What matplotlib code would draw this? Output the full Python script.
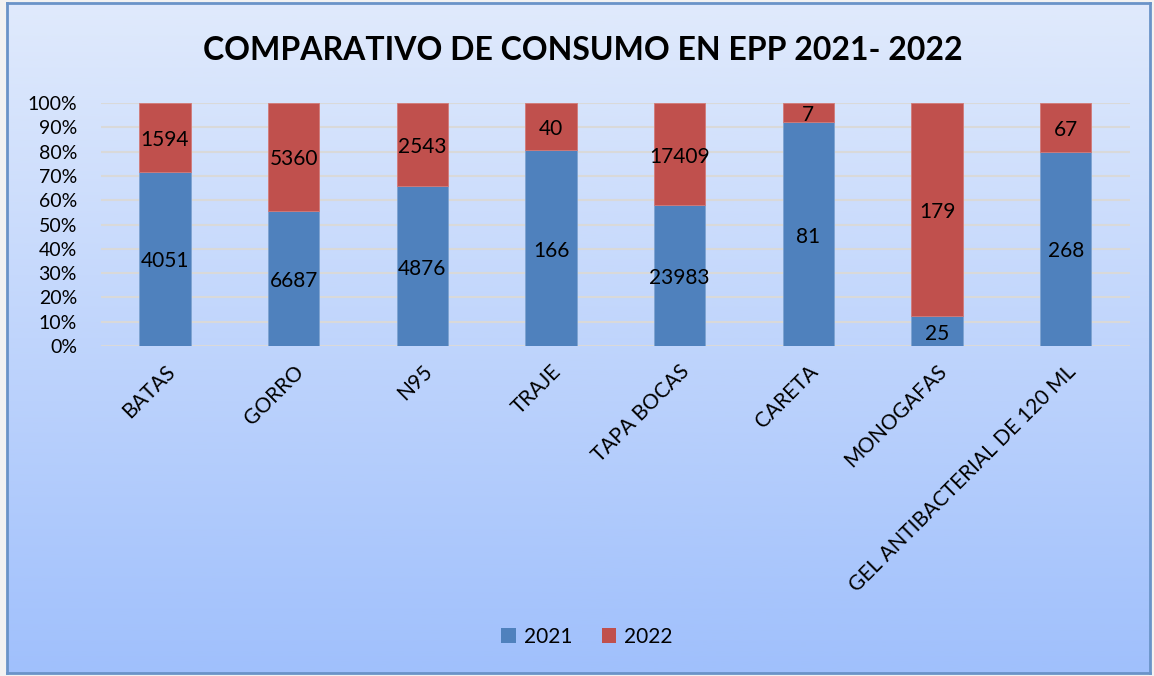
import numpy as np
import matplotlib
matplotlib.use("Agg")
import matplotlib.pyplot as plt
from matplotlib.patches import Patch
from matplotlib.ticker import PercentFormatter

categories = ["BATAS", "GORRO", "N95", "TRAJE", "TAPA BOCAS", "CARETA", "MONOGAFAS",
              "GEL ANTIBACTERIAL DE 120 ML"]
v2021 = [4051, 6687, 4876, 166, 23983, 81, 25, 268]
v2022 = [1594, 5360, 2543, 40, 17409, 7, 179, 67]
series_names = ["2021", "2022"]
title = "COMPARATIVO DE CONSUMO EN EPP 2021- 2022"

plt.rcParams['font.family'] = ['Lato', 'DejaVu Sans']

W, H = 1154, 676
fig = plt.figure(figsize=(W / 100, H / 100), dpi=100)
fig.patch.set_facecolor("#f2f2f2")

# gradient background panel
bg = fig.add_axes([7 / W, 3 / H, (1150 - 7) / W, (673 - 3) / H], zorder=0)
top = np.array([224, 234, 252]) / 255
bot = np.array([160, 192, 252]) / 255
t = np.linspace(0, 1, 256)[:, None]
grad = (top[None, :] * (1 - t) + bot[None, :] * t)[:, None, :]
bg.imshow(grad, aspect="auto", extent=[0, 1, 0, 1], origin="upper")
bg.set_xlim(0, 1); bg.set_ylim(0, 1)
bg.set_xticks([]); bg.set_yticks([])
for s in bg.spines.values():
    s.set_color("#6a93c8")
    s.set_linewidth(2)

ax = fig.add_axes([100.6 / W, (676 - 346) / H, (1130 - 100.6) / W, (346 - 103) / H], zorder=1)
ax.set_facecolor("none")

a = np.array(v2021, float)
b = np.array(v2022, float)
tot = a + b
pa = a / tot
pb = b / tot
x = np.arange(len(categories))
c1, c2 = "#4F81BD", "#C0504D"
ax.bar(x, pa, width=0.4, color=c1, edgecolor="#7ea3d1", linewidth=0.6, zorder=2)
ax.bar(x, pb, width=0.4, bottom=pa, color=c2, edgecolor="#d27a78", linewidth=0.6, zorder=2)

for i in range(len(categories)):
    ax.text(x[i], pa[i] / 2 - 0.01, f"{v2021[i]}", ha="center", va="center", fontsize=15, zorder=3)
    ax.text(x[i], pa[i] + pb[i] / 2 - 0.01, f"{v2022[i]}", ha="center", va="center", fontsize=15, zorder=3)

ax.set_xlim(-0.5, len(categories) - 0.5)
ax.set_ylim(0, 1)
ax.set_yticks(np.arange(0, 1.01, 0.1))
ax.yaxis.set_major_formatter(PercentFormatter(1.0, decimals=0))
ax.grid(axis="y", color="#d9d9d9", linewidth=1.5, zorder=0)
ax.set_axisbelow(True)
for s in ax.spines.values():
    s.set_visible(False)
ax.tick_params(axis="both", length=0, labelsize=14)
ax.tick_params(axis="y", pad=17)
ax.set_xticks(x)
ax.set_xticklabels(categories, rotation=45, ha="right", rotation_mode="anchor", fontsize=15)
ax.tick_params(axis="x", pad=11)

fig.text(583 / W, 1 - 50 / H, title, ha="center", va="center", fontsize=23, fontweight="bold")

handles = [Patch(facecolor=c1, label=series_names[0]), Patch(facecolor=c2, label=series_names[1])]
fig.legend(handles=handles, loc="center", bbox_to_anchor=(587 / W, 1 - 637 / H), ncol=2,
           frameon=False, fontsize=15, handlelength=0.7, handleheight=0.7, columnspacing=1.4,
           handletextpad=0.4)

fig.savefig("out.png", dpi=100)
